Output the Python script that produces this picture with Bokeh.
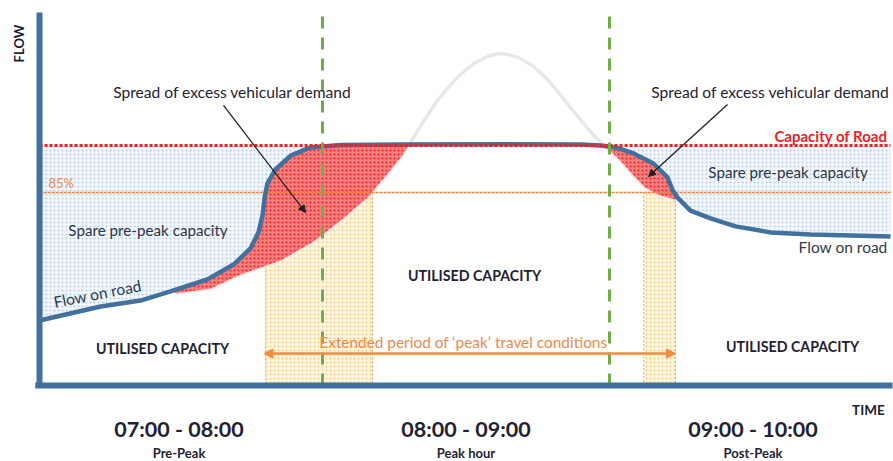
import numpy as np
from bokeh.plotting import figure
from bokeh.models import Range1d, Label, Arrow, NormalHead, ColumnDataSource
from bokeh.embed import file_html
from bokeh.resources import INLINE
from bokeh.core.properties import value

# ---------------- data (time in hours, flow in % of road capacity) ----------------
flow_hours = [7.014, 7.227, 7.366, 7.470, 7.599, 7.690, 7.749, 7.777, 7.791, 7.798,
              7.808, 7.836, 7.889, 7.958, 8.063, 8.272, 8.620, 8.899, 8.969, 9.021,
              9.084, 9.153, 9.202, 9.220, 9.237, 9.282, 9.352, 9.439, 9.561, 9.700,
              9.979]
flow_values = [27.1, 32.9, 35.4, 39.2, 44.2, 50.4, 57.1, 63.8, 70.8, 77.9,
               84.2, 90.0, 95.8, 99.2, 100.2, 100.4, 100.5, 100.4, 100.0, 99.2,
               96.7, 92.5, 86.7, 81.3, 78.3, 72.9, 69.6, 66.3, 63.8, 62.9,
               62.1]

demand_hours = [7.490, 7.610, 7.714, 7.854, 7.969, 8.063, 8.157, 8.227, 8.272, 8.300,
                8.328, 8.359, 8.401, 8.446, 8.488, 8.533, 8.575, 8.610, 8.648, 8.690,
                8.735, 8.781, 8.822, 8.864, 8.906, 8.948, 8.986, 9.038, 9.084, 9.125,
                9.178, 9.230]
demand_values = [38.4, 40.4, 46.3, 52.1, 60.0, 68.8, 78.3, 88.3, 95.0, 100.0,
                 105.4, 111.3, 118.8, 125.4, 130.4, 134.6, 137.1, 138.3, 137.9, 136.3,
                 132.9, 127.9, 122.1, 115.8, 109.6, 103.8, 99.6, 93.8, 87.5, 82.5,
                 79.2, 77.5]

road_capacity = 100.0
threshold_85 = 80.4
peak_bounds = [8.0, 9.0]                  # start / end of peak hour
band_starts = [7.801, 9.119]               # extended 'peak' conditions bands
band_ends = [8.174, 9.230]
hour_labels = ["07:00 - 08:00", "08:00 - 09:00", "09:00 - 10:00"]
period_labels = ["Pre-Peak", "Peak hour", "Post-Peak"]
hour_mids = [7.5, 8.5, 9.5]
t_min = 7.0

fh = np.array(flow_hours)
fv = np.array(flow_values)
dh = np.array(demand_hours)
dv = np.array(demand_values)

FONT = "Lato"
DARK = "#1f2233"
AXIS = "#41719c"

p = figure(width=893, height=461, x_range=Range1d(6.878, 9.9895),
           y_range=Range1d(-31.67, 160.42), output_backend="svg",
           toolbar_location=None, x_axis_type=None, y_axis_type=None,
           min_border=0, outline_line_color=None)
p.grid.visible = False
p.background_fill_color = "white"

x_left = fh[0]
x_right = fh[-1]

# --- spare capacity (blue dotted) ---
BLUE_KW = dict(fill_color="#f3f7fc", line_color=None, hatch_pattern="dot",
               hatch_color="#b3cdea", hatch_scale=4)
m = fh <= 8.07
p.patch(list(fh[m]) + [fh[m][-1], x_left], list(fv[m]) + [road_capacity, road_capacity], **BLUE_KW)
m = fh >= 8.96
p.patch(list(fh[m]) + [x_right, fh[m][0]], list(fv[m]) + [road_capacity, road_capacity], **BLUE_KW)

# --- extended peak bands (yellow dotted) ---
p.quad(left=band_starts, right=band_ends, bottom=[0, 0], top=[threshold_85] * 2,
       fill_color="#fff7e2", hatch_pattern="dot", hatch_color="#f9c978", hatch_scale=4,
       line_color="#f4a259", line_width=1, line_dash="2 2")

# --- demand curve (light grey) ---
p.line(demand_hours, demand_values, line_color="#e8e8e8", line_width=3.5)

# --- excess demand (red) ---
RED_KW = dict(fill_color="#f68080", line_color=None, hatch_pattern="dot",
              hatch_color="#ee1c1c", hatch_scale=4)
for lo, hi in [(7.46, 8.31), (8.96, 9.24)]:
    mf = (fh >= lo) & (fh <= hi)
    md = (dh >= lo) & (dh <= hi)
    p.patch(list(fh[mf]) + list(dh[md][::-1]), list(fv[mf]) + list(dv[md][::-1]), **RED_KW)

# --- 85% line ---
p.line([x_left, x_right], [threshold_85] * 2, line_color="#f07f32", line_width=1.5,
       line_dash="3 1")

# --- flow on road ---
p.line(flow_hours, flow_values, line_color=AXIS, line_width=4.5)

# --- capacity line ---
p.line([x_left, x_right], [road_capacity] * 2, line_color="#ff1a1a", line_width=3,
       line_dash="3 2")

# --- peak hour boundaries ---
p.segment(x0=peak_bounds, x1=peak_bounds, y0=[0, 0], y1=[155.4, 155.4],
          line_color="#6fae45", line_width=3, line_dash="12 9")

# --- axes ---
p.line([x_left, x_left], [-1.0, 155.4], line_color=AXIS, line_width=6)
p.line([t_min - 0.001, x_right + 0.007], [0, 0], line_color=AXIS, line_width=6)

# --- extended period arrow ---
ORANGE = "#f28c3c"
p.add_layout(Arrow(x_start=band_starts[0] - 0.005, y_start=13.3, x_end=band_ends[1], y_end=13.3,
                   line_color=ORANGE, line_width=2.5,
                   start=NormalHead(size=9, fill_color=ORANGE, line_color=ORANGE),
                   end=NormalHead(size=9, fill_color=ORANGE, line_color=ORANGE)))

# --- pointer arrows ---
p.add_layout(Arrow(x_start=7.655, y_start=116.7, x_end=7.941, y_end=72.1,
                   line_color="#222222", line_width=1.3,
                   end=NormalHead(size=7, fill_color="#222222", line_color="#222222")))
p.add_layout(Arrow(x_start=9.411, y_start=117.1, x_end=9.136, y_end=87.1,
                   line_color="#222222", line_width=1.3,
                   end=NormalHead(size=7, fill_color="#222222", line_color="#222222")))


def lab(x, y, text, size, color=DARK, bold=False, align="center", angle=0.0):
    p.add_layout(Label(x=x, y=y, text=text, text_font=FONT, text_font_size=size,
                       text_color=color, text_font_style="bold" if bold else "normal",
                       text_align=align, text_baseline="middle", angle=angle))


lab(8.491, 18.3, "Extended period of \u2018peak\u2019 travel conditions", "15.4px", color="#f0894a")
lab(7.686, 122.5, "Spread of excess vehicular demand", "15.6px")
lab(9.561, 122.5, "Spread of excess vehicular demand", "15.6px")
lab(9.969, 103.9, "Capacity of Road", "15px", color="#ee1c25", bold=True, align="right")
lab(7.045, 84.3, "85%", "13px", color="#f0894a", align="left")
lab(7.392, 65.0, "Spare pre-peak capacity", "15.2px", color="#2e3546")
lab(9.622, 88.8, "Spare pre-peak capacity", "15.2px", color="#2e3546")
lab(7.216, 38.3, "Flow on road", "15.5px", color="#2e3a50", angle=np.deg2rad(11))
lab(9.969, 57.5, "Flow on road", "15.5px", color="#2e3a50", align="right")
lab(7.4425, 15.4, "UTILISED CAPACITY", "14.2px", bold=True)
lab(8.5296, 45.8, "UTILISED CAPACITY", "14.2px", bold=True)
lab(9.6376, 16.2, "UTILISED CAPACITY", "14.2px", bold=True)
lab(9.902, -10.4, "TIME", "13.5px", bold=True)
lab(6.941, 142.5, "FLOW", "13px", bold=True, angle=np.pi / 2)

src = ColumnDataSource(dict(x=hour_mids, y1=[-18.1] * 3, y2=[-28.3] * 3,
                            t1=hour_labels, t2=period_labels))
p.text(x="x", y="y1", text="t1", source=src, text_font=value(FONT),
       text_font_size="21.5px", text_font_style="bold", text_color=DARK,
       text_align="center", text_baseline="middle")
p.text(x="x", y="y2", text="t2", source=src, text_font=value(FONT),
       text_font_size="13px", text_font_style="bold", text_color=DARK,
       text_align="center", text_baseline="middle")

open("out.html", "w").write(file_html(p, INLINE))
